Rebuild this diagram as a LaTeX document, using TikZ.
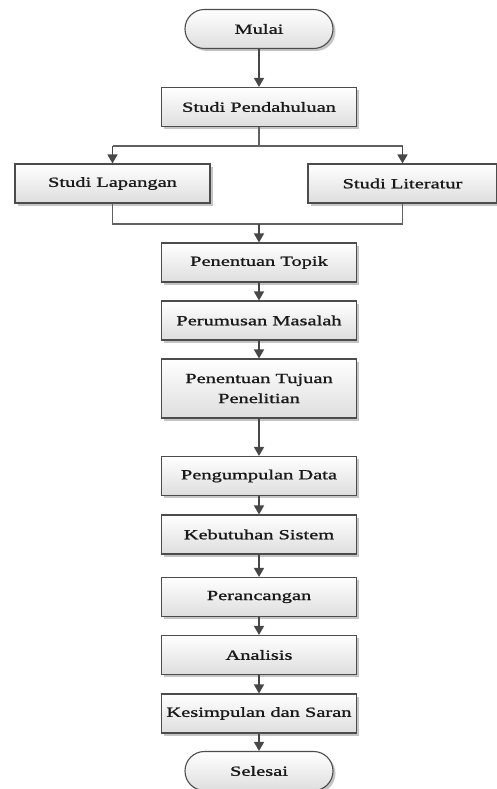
\documentclass[tikz,border=0pt]{standalone}
\usepackage{fontspec}
\setmainfont{Liberation Serif}[FakeStretch=1.46, FakeBold=1.2]
\usepackage{tikz}
\usetikzlibrary{arrows.meta, shadows}

\begin{document}
\begin{tikzpicture}[
  x=1pt, y=-1pt,
  font=\fontsize{14}{20}\selectfont,
  box/.style={draw=black!70, line width=1.1pt, align=center, inner sep=0pt,
              minimum width=195pt, minimum height=39pt, text=black!90,
              top color=white, bottom color=black!13,
              drop shadow={shadow xshift=2.5pt, shadow yshift=-2.5pt,
                           fill=black!45, opacity=.5}},
  term/.style={box, minimum width=148pt, minimum height=39pt,
               rounded corners=19.4pt},
  flow/.style={-{Triangle[length=9pt, width=10pt]}, draw=black!72,
               line width=1.5pt},
  link/.style={draw=black!62, line width=1.2pt}
]
\useasboundingbox (0,0) rectangle (497,789);

%% ---------- start ----------
\node[term] (mulai) at (259,29)    {Mulai};
\node[box]  (pend)  at (259,107)   {Studi Pendahuluan};

%% ---------- two studies ----------
\node[box] (lap) at (112.5,183.5) {Studi Lapangan};
\node[box, minimum width=189pt] (lit) at (402.5,183.5) {Studi Literatur};
\coordinate (split) at (259,146);
\coordinate (merge) at (259,224);

%% ---------- main column ----------
\node[box] (topik)    at (259,262.5) {Penentuan Topik};
\node[box] (rumusan)  at (259,320.5) {Perumusan Masalah};
\node[box, minimum height=59pt] (tujuan) at (259,388.5)
  {Penentuan Tujuan\\Penelitian};
\node[box] (data)     at (259,476)   {Pengumpulan Data};
\node[box] (sistem)   at (259,534.5) {Kebutuhan Sistem};
\node[box] (rancang)  at (259,597)   {Perancangan};
\node[box] (analisis) at (259,655)   {Analisis};
\node[box] (simpul)   at (259,713.5) {Kesimpulan dan Saran};
\node[term] (selesai) at (259,771)   {Selesai};

%% ---------- connectors ----------
\draw[flow] (mulai) -- (pend);
\draw[link] (pend.south) -- (split);
\draw[link] (lap.north |- split) -- (lit.north |- split);
\draw[flow] (lap.north |- split) -- (lap.north);
\draw[flow] (lit.north |- split) -- (lit.north);
\draw[link] (lap.south) |- (merge) -| (lit.south);
\draw[flow] (merge) -- (topik.north);

\foreach \a/\b in {topik/rumusan, rumusan/tujuan, tujuan/data, data/sistem,
                   sistem/rancang, rancang/analisis, analisis/simpul,
                   simpul/selesai}
  \draw[flow] (\a) -- (\b);
\end{tikzpicture}
\end{document}
